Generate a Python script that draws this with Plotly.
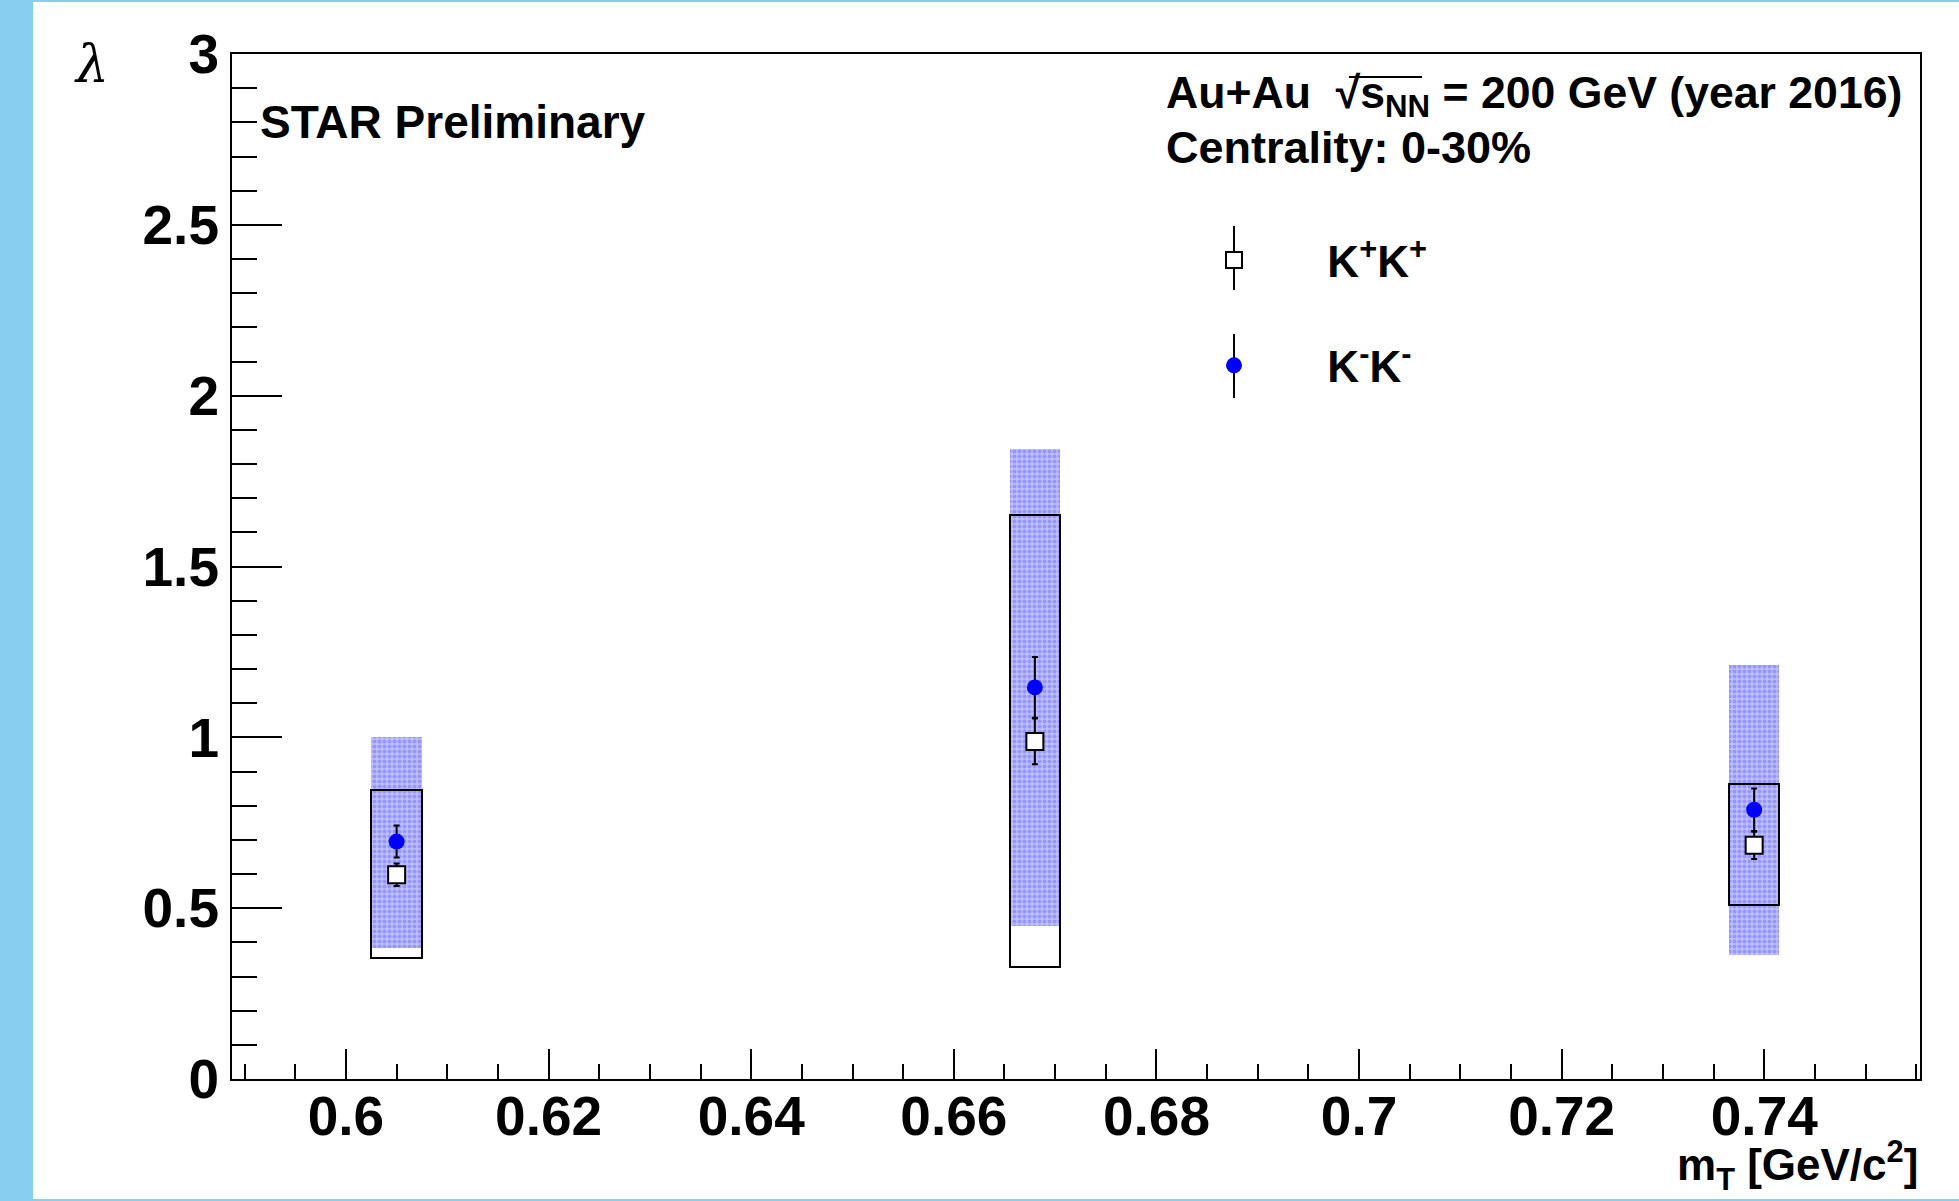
import plotly.graph_objects as go

# ---- data ----
mt = [0.605, 0.668, 0.739]

kpkp_lambda = [0.598, 0.988, 0.684]
kpkp_stat = [0.033, 0.067, 0.040]
kpkp_sys_lo = [0.244, 0.661, 0.176]
kpkp_sys_hi = [0.249, 0.662, 0.178]

kmkm_lambda = [0.695, 1.146, 0.788]
kmkm_stat = [0.047, 0.089, 0.062]
kmkm_sys_lo = [0.312, 0.699, 0.425]
kmkm_sys_hi = [0.305, 0.699, 0.425]

x_tickvals = [0.6, 0.62, 0.64, 0.66, 0.68, 0.70, 0.72, 0.74]
x_ticktext = ["0.6", "0.62", "0.64", "0.66", "0.68", "0.7", "0.72", "0.74"]
y_tickvals = [0, 0.5, 1, 1.5, 2, 2.5, 3]
y_ticktext = ["0", "0.5", "1", "1.5", "2", "2.5", "3"]

sys_width = 0.005

W, H = 1959, 1201
ML, MR, MT, MB = 232, 39, 54, 122
PW, PH = W - ML - MR, H - MT - MB


def px(xp):
    return (xp - ML) / PW


def py(yp):
    return (H - MB - yp) / PH


FONT = "Liberation Sans, Arial, Helvetica, sans-serif"

fig = go.Figure()

# systematic boxes
fig.add_trace(go.Bar(
    x=mt,
    y=[a + b for a, b in zip(kmkm_sys_lo, kmkm_sys_hi)],
    base=[v - e for v, e in zip(kmkm_lambda, kmkm_sys_lo)],
    width=sys_width,
    marker=dict(color="rgba(0,0,0,0)", line=dict(width=0),
                pattern=dict(shape=".", fgcolor="#6c6cff", bgcolor="#bebeff",
                             size=5, solidity=0.5)),
    showlegend=False, hoverinfo="skip",
))
fig.add_trace(go.Bar(
    x=mt,
    y=[a + b for a, b in zip(kpkp_sys_lo, kpkp_sys_hi)],
    base=[v - e for v, e in zip(kpkp_lambda, kpkp_sys_lo)],
    width=sys_width,
    marker=dict(color="rgba(0,0,0,0)", line=dict(color="black", width=2)),
    showlegend=False, hoverinfo="skip",
))

# points with stat errors
fig.add_trace(go.Scatter(
    x=mt, y=kpkp_lambda, mode="markers",
    name="\u00a0" * 6 + "K<sup>+</sup>K<sup>+</sup>",
    marker=dict(symbol="square", size=17, color="white",
                line=dict(color="black", width=2)),
    error_y=dict(type="data", array=kpkp_stat, color="black", thickness=2, width=3),
    legendgroup="a",
))
fig.add_trace(go.Scatter(
    x=mt, y=kmkm_lambda, mode="markers",
    name="\u00a0" * 6 + "K<sup>-</sup>K<sup>-</sup>",
    marker=dict(symbol="circle", size=16, color="#0000ff", line=dict(width=0)),
    error_y=dict(type="data", array=kmkm_stat, color="black", thickness=2, width=3),
    legendgroup="b",
))

LB = "#88cef0"
shapes = [
    dict(type="rect", xref="paper", yref="paper", x0=px(0), x1=px(33), y0=py(H), y1=py(0),
         fillcolor=LB, line=dict(width=0)),
    dict(type="rect", xref="paper", yref="paper", x0=px(0), x1=px(W), y0=py(2), y1=py(0),
         fillcolor=LB, line=dict(width=0)),
    dict(type="rect", xref="paper", yref="paper", x0=px(0), x1=px(W), y0=py(H), y1=py(H - 2),
         fillcolor=LB, line=dict(width=0)),
    # legend error-bar glyphs
    dict(type="line", xref="paper", yref="paper", x0=px(1234), x1=px(1234), y0=py(290), y1=py(226),
         line=dict(color="black", width=2), layer="below"),
    dict(type="line", xref="paper", yref="paper", x0=px(1234), x1=px(1234), y0=py(398), y1=py(334),
         line=dict(color="black", width=2), layer="below"),
    # overline of the square root
    dict(type="line", xref="paper", yref="paper", x0=px(1349), x1=px(1422), y0=py(77), y1=py(77),
         line=dict(color="black", width=2)),
]

annotations = [
    dict(text="STAR Preliminary", xref="paper", yref="paper", x=px(258), y=py(122),
         xanchor="left", yanchor="middle", showarrow=False,
         font=dict(family=FONT, size=46, color="black", weight="bold")),
    dict(text="Au+Au  \u221As<sub>NN</sub> = 200 GeV (year 2016)", xref="paper", yref="paper",
         x=px(1164), y=py(96), xanchor="left", yanchor="middle", showarrow=False,
         font=dict(family=FONT, size=44.6, color="black", weight="bold")),
    dict(text="Centrality: 0-30%", xref="paper", yref="paper",
         x=px(1164), y=py(148), xanchor="left", yanchor="middle", showarrow=False,
         font=dict(family=FONT, size=45, color="black", weight="bold")),
    dict(text="\u03bb", xref="paper", yref="paper", x=px(91), y=py(64),
         xanchor="center", yanchor="middle", showarrow=False,
         font=dict(family="DejaVu Serif, Liberation Serif, serif", size=52, color="black",
                   style="italic")),
    dict(text="m<sub>T</sub> [GeV/c<sup>2</sup>]", xref="paper", yref="paper",
         x=1.0, y=py(1165), xanchor="right", yanchor="middle", showarrow=False,
         font=dict(family=FONT, size=44, color="black", weight="bold")),
]

fig.update_layout(
    width=W, height=H,
    margin=dict(l=ML, r=MR, t=MT, b=MB, pad=0),
    paper_bgcolor="white", plot_bgcolor="white",
    barmode="overlay", bargap=0,
    shapes=shapes, annotations=annotations,
    showlegend=True,
    legend=dict(x=px(1214), y=py(225), xanchor="left", yanchor="top",
                bgcolor="rgba(0,0,0,0)", borderwidth=0, tracegroupgap=45,
                font=dict(family=FONT, size=44, color="black", weight="bold")),
    xaxis=dict(range=[0.58875, 0.75537], tickvals=x_tickvals, ticktext=x_ticktext,
               ticks="inside", ticklen=30, tickwidth=2, tickcolor="black",
               showline=True, linewidth=2, linecolor="black", mirror=True,
               showgrid=False, zeroline=False, ticklabelstandoff=-12,
               tickfont=dict(family=FONT, size=55, color="black", weight="bold"),
               minor=dict(dtick=0.005, tick0=0.6, ticks="inside", ticklen=15,
                          tickwidth=2, tickcolor="black", showgrid=False)),
    yaxis=dict(range=[0, 3], tickvals=y_tickvals, ticktext=y_ticktext,
               ticks="inside", ticklen=50, tickwidth=2, tickcolor="black",
               showline=True, linewidth=2, linecolor="black", mirror=True,
               showgrid=False, zeroline=False,
               tickfont=dict(family=FONT, size=55, color="black", weight="bold"),
               minor=dict(dtick=0.1, tick0=0, ticks="inside", ticklen=25,
                          tickwidth=2, tickcolor="black", showgrid=False)),
)

fig.write_html("out.html", config={"displayModeBar": False},
               post_script="document.body.style.margin='0';document.body.style.overflow='hidden';")
